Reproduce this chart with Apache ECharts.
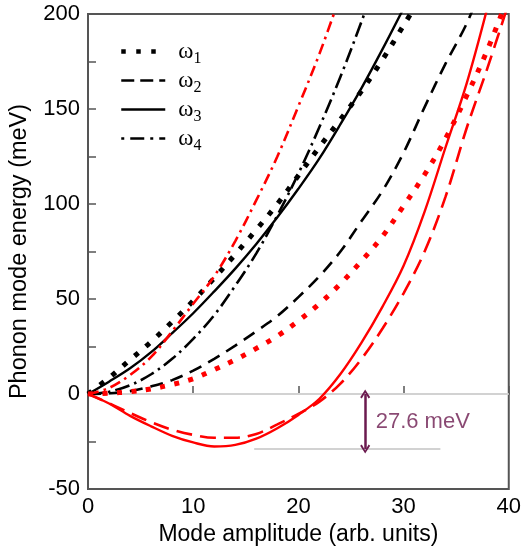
<!DOCTYPE html>
<html>
<head>
<meta charset="utf-8">
<script src="https://cdn.jsdelivr.net/npm/echarts@6/dist/echarts.min.js"></script>
<style>html,body{margin:0;padding:0;background:#fff;}#c{width:524px;height:551px;}</style>
</head>
<body>
<div id="c"></div>
<script>
// Mode amplitude sample points (arb. units)
const amp = [0,2,4,6,8,10,12,14,16,18,20,22,24,26,28,30,32,34,36,38,40];
// Black curves
const blackW1 = [0, 8.5, 18, 27.5, 38, 49, 61, 73.5, 86.5, 100, 115, 130, 144.5, 159.5, 176, 194, 212];
const blackW2 = [0, 0.4, 1.5, 4, 7.3, 12.3, 18.5, 25.5, 33, 41, 51, 62, 75, 91, 107, 127, 151, 174, 195, 222];
const blackW3 = [0, 6.5, 13.5, 22, 32, 42.5, 54, 66, 79, 93, 108, 124, 142, 161, 181.5, 203];
const blackW4 = [0, 1.2, 4.6, 10.4, 18.5, 29, 41.5, 57, 74, 94, 116, 140.5, 167, 196, 227];
// Red curves
const redW1 = [0, 0.4, 1.2, 2.7, 5, 8, 12.8, 18, 24, 30.5, 38.5, 47.5, 58, 70, 83, 99, 115.5, 134.5, 157, 181.5, 210];
const redW2 = [0, -4.8, -10, -14.8, -18.8, -21.5, -23, -23, -21, -16, -10.5, -4, 5.5, 18.5, 34.5, 53, 75, 104, 140, 172, 206];
const redW3 = [0, -5, -11.5, -17, -22, -25.5, -27.6, -26.8, -23.5, -18, -11, -2.5, 10.5, 27, 46, 67.5, 96, 130, 163.5, 204];
const redW4 = [0, 3.2, 10, 19.5, 33, 47.5, 62, 80.5, 102, 125, 151.5, 179, 210];
// Reference lines and annotation
const zeroLine = [[0, 0], [40, 0]];
const minLine = [[15.8, -29], [33.5, -29]];
const arrowX = 26.35;
const arrowEnds = [0, -29];
const annotText = '27.6 meV';
const annotPos = [26.35, -14.5];
const legendNames = ['ω1', 'ω2', 'ω3', 'ω4'];
const xTicks = { min: 0, max: 40, step: 10 };
const yTicks = { min: -50, max: 200, step: 25, labelStep: 50 };

const pair = arr => arr.map((v, i) => [amp[i], v]);
const chevron = 'path://M5,0 L10,8 L8.4,9.2 L5,3.2 L1.6,9.2 L0,8 Z';
const purple = '#6b1a4f';
const axisCol = '#555555';

const styles = {
  dotted: { type: [5, 10], width: 5 },
  dashed: { type: [13, 8], width: 2.6 },
  solid: { type: 'solid', width: 2.4 },
  dashdot: { type: [15, 5, 2.5, 5], width: 2.6 }
};
const legendStyles = [
  { type: [4.5, 10.5], width: 4.5 },
  { type: [13, 6], width: 2.6 },
  { type: 'solid', width: 2.6 },
  { type: [3, 6, 14, 6], width: 2.6 }
];

function curve(name, data, color, st) {
  return {
    name: name, type: 'line', data: pair(data), smooth: 0.35,
    showSymbol: false, symbol: 'none', clip: true, z: 5,
    itemStyle: { color: color },
    lineStyle: { color: color, width: st.width, type: st.type, cap: 'butt' }
  };
}

const chart = echarts.init(document.getElementById('c'), null, { renderer: 'canvas' });
chart.setOption({
  animation: false,
  backgroundColor: '#ffffff',
  grid: { left: 88, right: 13, top: 14, bottom: 62, show: true, borderColor: axisCol, borderWidth: 2, backgroundColor: 'transparent' },
  legend: {
    data: legendNames.map((n, i) => ({
      name: n,
      itemStyle: { opacity: 0 },
      lineStyle: { color: '#000', width: legendStyles[i].width, type: legendStyles[i].type, cap: 'butt' }
    })),
    orient: 'vertical', left: 114, top: 35,
    itemWidth: 44, itemHeight: 14, itemGap: 2,
    itemStyle: { opacity: 0 },
    formatter: n => '{w|ω}{s|' + n.slice(1) + '}',
    textStyle: {
      color: '#000',
      rich: {
        w: { fontFamily: 'Liberation Serif', fontSize: 23, color: '#000', padding: [0, 0, 0, 8] },
        s: { fontFamily: 'Liberation Serif', fontSize: 16, color: '#000', padding: [15, 0, 0, 0] }
      }
    }
  },
  xAxis: {
    type: 'value', min: xTicks.min, max: xTicks.max, interval: xTicks.step,
    name: 'Mode amplitude (arb. units)', nameLocation: 'middle', nameGap: 30,
    nameTextStyle: { fontFamily: 'Liberation Sans', fontSize: 23, color: '#000' },
    axisLine: { show: true, lineStyle: { color: axisCol, width: 2 } },
    axisTick: { show: true, inside: true, length: 8, lineStyle: { color: axisCol, width: 1.5 } },
    axisLabel: { fontFamily: 'Liberation Sans', fontSize: 22, color: '#000', margin: 7 },
    splitLine: { show: false }
  },
  yAxis: {
    type: 'value', min: yTicks.min, max: yTicks.max, interval: yTicks.step,
    name: 'Phonon mode energy (meV)', nameLocation: 'middle', nameGap: 56,
    nameTextStyle: { fontFamily: 'Liberation Sans', fontSize: 23.5, color: '#000' },
    axisLine: { show: true, lineStyle: { color: axisCol, width: 2 } },
    axisTick: { show: true, inside: true, length: 8, lineStyle: { color: axisCol, width: 1.5 } },
    axisLabel: { fontFamily: 'Liberation Sans', fontSize: 22, color: '#000', margin: 8,
      formatter: v => (v % yTicks.labelStep === 0 ? String(v) : '') },
    splitLine: { show: false }
  },
  series: [
    {
      name: 'zero', type: 'line', data: zeroLine, symbol: 'none', z: 1,
      lineStyle: { color: '#d2d2d2', width: 2 }, silent: true,
      markLine: {
        silent: true, symbol: [chevron, chevron], symbolSize: [10, 9],
        label: { show: false },
        lineStyle: { color: purple, width: 2.5, type: 'solid' },
        data: [[{ coord: [arrowX, arrowEnds[0]] }, { coord: [arrowX, arrowEnds[1]] }]]
      }
    },
    {
      name: 'min', type: 'line', data: minLine, symbol: 'none', z: 1,
      lineStyle: { color: '#d2d2d2', width: 2 }, silent: true
    },
    {
      name: 'annot', type: 'scatter', data: [annotPos], symbolSize: 1, z: 6,
      itemStyle: { color: 'rgba(0,0,0,0)' }, silent: true,
      label: { show: true, position: 'right', distance: 10, formatter: annotText,
        fontFamily: 'Liberation Sans', fontSize: 22, color: purple }
    },
    curve('ω1', blackW1, '#000000', styles.dotted),
    curve('ω2', blackW2, '#000000', styles.dashed),
    curve('ω3', blackW3, '#000000', styles.solid),
    curve('ω4', blackW4, '#000000', styles.dashdot),
    curve('red ω1', redW1, '#ff0000', { type: [5, 9.5], width: 5 }),
    curve('red ω2', redW2, '#ff0000', { type: [16, 8], width: 2.6 }),
    curve('red ω3', redW3, '#ff0000', styles.solid),
    curve('red ω4', redW4, '#ff0000', { type: [11, 5, 2.5, 5], width: 2.6 })
  ]
});
</script>
</body>
</html>
